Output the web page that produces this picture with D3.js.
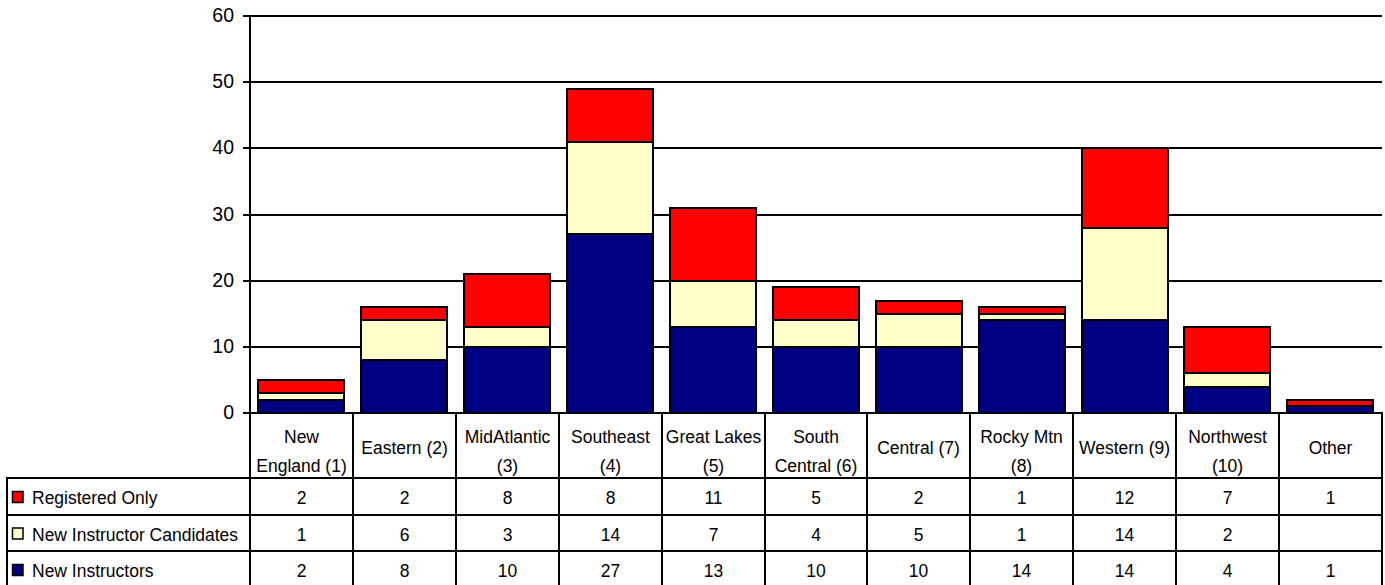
<!DOCTYPE html>
<html>
<head>
<meta charset="utf-8">
<script src="https://cdn.jsdelivr.net/npm/d3@7/dist/d3.min.js"></script>
<style>
  html, body { margin: 0; padding: 0; background: #fff; }
  svg { display: block; font-family: "Liberation Sans", Arial, sans-serif; }
</style>
</head>
<body>
<svg id="chart" width="1385" height="585"></svg>
<script>
const categories = [
  ["New", "England (1)"], ["Eastern (2)"], ["MidAtlantic", "(3)"], ["Southeast", "(4)"],
  ["Great Lakes", "(5)"], ["South", "Central (6)"], ["Central (7)"], ["Rocky Mtn", "(8)"],
  ["Western (9)"], ["Northwest", "(10)"], ["Other"]
];
const newInstructors = [2, 8, 10, 27, 13, 10, 10, 14, 14, 4, 1];
const candidates     = [1, 6, 3, 14, 7, 4, 5, 1, 14, 2, null];
const registeredOnly = [2, 2, 8, 8, 11, 5, 2, 1, 12, 7, 1];
const yTicks = [0, 10, 20, 30, 40, 50, 60];

const seriesNames = ["New Instructors", "New Instructor Candidates", "Registered Only"];
const seriesValues = [newInstructors, candidates, registeredOnly];
const seriesColors = ["#000080", "#FFFFCC", "#FF0000"];

(function () {
const svg = d3.select("#chart");
const pLeft = 250, pRight = 1382, pTop = 16, pBottom = 413;
const tableLeft = 7;
const rowTops = [478, 515, 551, 588];
const SY = 1.07; // vertical stretch of text

const idx = d3.range(categories.length);
const x = d3.scaleBand().domain(idx).range([pLeft, pRight]).paddingInner(0.16).paddingOuter(0.08);
const y = d3.scaleLinear().domain([0, 60]).range([pBottom, pTop]);
const ry = v => Math.round(y(v));

// gridlines
svg.append("g").selectAll("line").data(yTicks.filter(d => d > 0)).join("line")
  .attr("x1", pLeft).attr("x2", pRight)
  .attr("y1", d => ry(d)).attr("y2", d => ry(d))
  .attr("stroke", "#000").attr("stroke-width", 2);

// stacked data
const rows = idx.map(i => {
  const o = { i };
  seriesNames.forEach((n, k) => o[n] = seriesValues[k][i] || 0);
  return o;
});
const stack = d3.stack().keys(seriesNames)(rows);

svg.append("g").selectAll("g").data(stack).join("g")
  .attr("fill", (d, k) => seriesColors[k])
  .selectAll("rect").data(d => d.filter(s => s[1] - s[0] > 0)).join("rect")
  .attr("x", d => Math.round(x(d.data.i)))
  .attr("width", Math.round(x.bandwidth()))
  .attr("y", d => ry(d[1]))
  .attr("height", d => ry(d[0]) - ry(d[1]))
  .attr("stroke", "#000").attr("stroke-width", 2);

// y axis
const yAxis = d3.axisLeft(y).tickValues(yTicks).tickSize(7).tickPadding(9);
const ga = svg.append("g").attr("transform", `translate(${pLeft},0)`).call(yAxis);
ga.selectAll(".tick").attr("transform", d => `translate(0,${ry(d)})`);
ga.select(".domain").attr("stroke", "#000").attr("stroke-width", 2).attr("d", `M-7,${pTop}H0V${pBottom}`);
ga.selectAll(".tick line").attr("stroke", "#000").attr("stroke-width", 2);
ga.selectAll(".tick text").attr("font-size", "19.5px").attr("fill", "#000")
  .attr("font-family", "'Liberation Sans', Arial, sans-serif");

// data table
const tbl = svg.append("g");
const colEdges = d3.range(categories.length + 1).map(k => Math.round(pLeft + k * (pRight - pLeft) / categories.length));
tbl.append("line").attr("x1", pLeft - 7).attr("x2", pRight + 1).attr("y1", pBottom).attr("y2", pBottom)
  .attr("stroke", "#000").attr("stroke-width", 2);
rowTops.forEach(yy => {
  tbl.append("line").attr("x1", tableLeft - 1).attr("x2", pRight + 1).attr("y1", yy).attr("y2", yy)
    .attr("stroke", "#000").attr("stroke-width", 2);
});
colEdges.forEach(xx => {
  tbl.append("line").attr("x1", xx).attr("x2", xx).attr("y1", pBottom).attr("y2", rowTops[3])
    .attr("stroke", "#000").attr("stroke-width", 2);
});
tbl.append("line").attr("x1", tableLeft).attr("x2", tableLeft).attr("y1", rowTops[0]).attr("y2", rowTops[3])
  .attr("stroke", "#000").attr("stroke-width", 2);

function label(g, tx, ty, txt, anchor) {
  g.append("text")
    .attr("transform", `translate(${tx},${ty}) scale(1,${SY})`)
    .attr("text-anchor", anchor || "middle")
    .attr("dy", "0.35em")
    .attr("font-size", "17.5px").attr("fill", "#000").text(txt);
}

// headers
categories.forEach((lines, i) => {
  const cx = (colEdges[i] + colEdges[i + 1]) / 2;
  if (lines.length === 1) {
    label(tbl, cx, 447, lines[0]);
  } else {
    label(tbl, cx, 436.5, lines[0]);
    label(tbl, cx, 465, lines[1]);
  }
});

// table rows: Registered Only, Candidates, New Instructors
const tableOrder = [2, 1, 0];
tableOrder.forEach((k, r) => {
  const cy = (rowTops[r] + rowTops[r + 1]) / 2 + 1;
  tbl.append("rect").attr("x", 12.5).attr("y", cy - 6).attr("width", 10.5).attr("height", 11)
    .attr("fill", seriesColors[k]).attr("stroke", "#000").attr("stroke-width", 1.5);
  label(tbl, 32, cy, seriesNames[k], "start");
  seriesValues[k].forEach((v, i) => {
    if (v == null) return;
    const cx = (colEdges[i] + colEdges[i + 1]) / 2;
    label(tbl, cx, cy, v);
  });
});
})();
</script>
</body>
</html>
